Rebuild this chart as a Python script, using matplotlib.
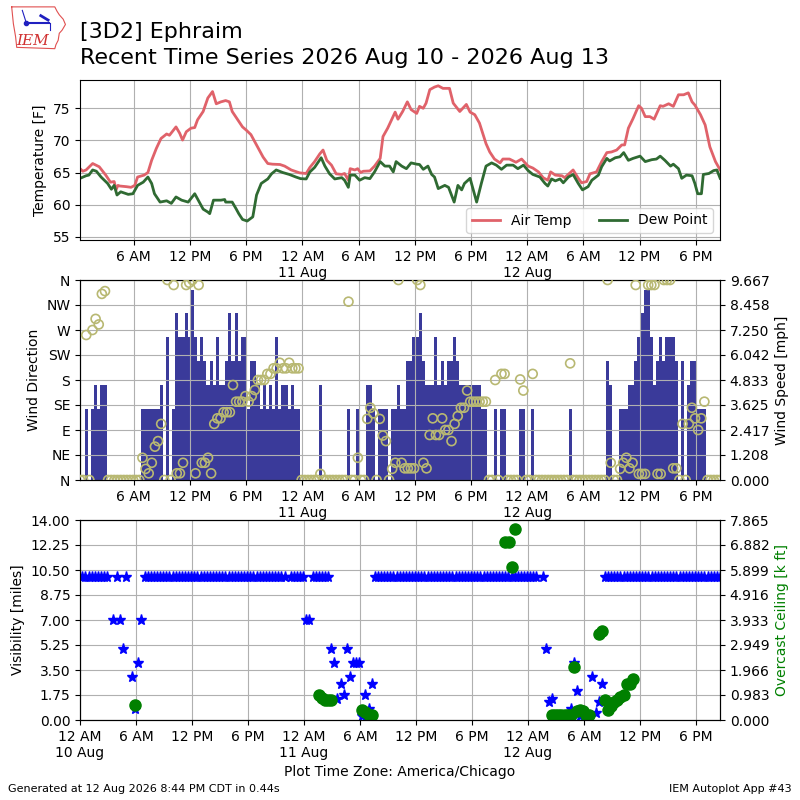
import numpy as np
import pandas as pd
import matplotlib

matplotlib.use("Agg")
import matplotlib.pyplot as plt
import matplotlib.dates as mdates
from matplotlib.ticker import FuncFormatter, FormatStrFormatter

# ---- data ----
START = pd.Timestamp("2026-08-10 00:00")
OBS_START = pd.Timestamp("2026-08-10 00:15")
N_OBS = 206  # 20 minute observations

temp_hours = [
    0.19, 0.55, 0.9, 1.6, 2.3, 3.0, 3.5, 3.9, 4.1, 4.3, 4.5, 5.2, 5.7, 6.1, 6.4,
    7.1, 7.5, 7.9, 8.4, 8.9, 9.5, 9.8, 10.5, 10.9, 11.2, 11.6, 12.1, 12.5, 12.8,
    13.4, 13.9, 14.4, 14.8, 15.3, 15.8, 16.2, 16.5, 17.1, 17.6, 18.0, 18.5, 19.1,
    19.8, 20.3, 20.8, 21.6, 22.1, 22.8, 23.7, 24.4, 24.8, 25.3, 25.85, 26.2, 26.6,
    27.1, 27.6, 28.2, 28.5, 28.9, 29.1, 29.6, 29.9, 30.2, 30.5, 31.2, 31.7, 32.3,
    32.6, 33.1, 33.9, 34.2, 34.7, 35.2, 35.6, 36.2, 36.5, 36.9, 37.2, 37.6, 38.1,
    38.5, 39.0, 39.7, 40.1, 40.8, 41.5, 41.9, 42.4, 42.9, 43.6, 44.0, 44.5, 45.1,
    45.4, 46.1, 46.8, 47.4, 48.1, 48.6, 49.2, 49.7, 50.2, 50.5, 51.0, 51.7, 52.0,
    52.9, 53.45, 53.8, 54.35, 54.7, 55.4, 55.95, 56.5, 57.0, 57.55, 58.1, 58.4,
    58.8, 59.3, 59.9, 60.2, 60.6, 61.1, 61.55, 61.8, 62.2, 62.5, 63.1, 63.6,
    64.15, 64.7, 65.2, 65.6, 65.9, 66.5, 67.0, 67.5, 68.1, 68.6,
]
temp_f = [
    65.7, 65.2, 65.4, 66.4, 65.9, 64.6, 63.5, 63.6, 62.3, 63.0, 62.9, 62.8, 62.7,
    63.0, 64.3, 64.6, 65.0, 66.9, 68.75, 70.3, 71.0, 70.8, 72.1, 71.1, 70.05,
    71.35, 71.9, 72.0, 73.2, 74.5, 76.6, 77.6, 75.7, 76.0, 76.2, 76.0, 74.5, 73.2,
    72.1, 71.6, 70.9, 69.3, 67.4, 66.4, 66.3, 66.25, 66.0, 65.4, 64.95, 64.85,
    65.8, 66.7, 67.9, 68.5, 66.9, 66.15, 64.8, 64.7, 64.85, 63.8, 65.6, 65.4, 65.6,
    65.0, 65.2, 65.25, 66.0, 67.2, 70.6, 71.9, 74.4, 73.3, 74.5, 76.0, 74.8, 74.2,
    75.3, 75.0, 75.8, 77.9, 78.3, 78.5, 78.1, 78.1, 75.8, 74.5, 75.6, 74.4, 74.0,
    72.7, 69.5, 68.2, 67.1, 66.5, 67.1, 67.1, 66.6, 67.1, 66.0, 65.7, 65.1, 64.2,
    63.8, 65.1, 64.6, 64.5, 64.2, 65.4, 64.1, 63.4, 63.6, 64.8, 65.1, 66.7, 68.1,
    68.2, 68.5, 69.3, 69.3, 71.9, 73.4, 75.4, 75.0, 73.7, 73.7, 73.3, 74.1, 75.4,
    75.3, 75.7, 75.3, 77.1, 77.1, 77.4, 76.0, 75.5, 74.0, 72.4, 69.0, 66.7, 65.4,
]

dewp_hours = [
    0.19, 0.9, 1.2, 1.6, 2.0, 2.5, 3.2, 3.6, 3.9, 4.2, 4.6, 5.4, 5.9, 6.4, 7.0,
    7.5, 7.9, 8.2, 8.8, 9.5, 10.0, 10.5, 11.1, 11.8, 12.5, 12.8, 13.4, 13.9, 14.1,
    14.5, 15.3, 15.7, 15.8, 16.5, 16.9, 17.2, 17.6, 18.1, 18.7, 19.1, 19.6, 20.3,
    20.7, 21.2, 21.9, 22.6, 23.3, 23.8, 24.4, 24.8, 25.3, 26.0, 26.4, 26.9, 27.45,
    28.2, 28.5, 28.9, 29.1, 29.6, 30.1, 30.65, 31.2, 31.7, 32.3, 32.8, 33.3, 33.7,
    34.0, 34.6, 35.1, 35.6, 36.2, 36.5, 36.9, 37.4, 37.8, 38.1, 38.5, 39.2, 39.6,
    40.2, 40.6, 41.0, 41.3, 41.9, 42.6, 43.1, 43.6, 44.2, 44.7, 45.25, 45.8, 46.5,
    47.0, 47.6, 48.1, 48.6, 49.35, 49.9, 50.2, 50.6, 51.0, 51.5, 51.85, 52.4,
    52.9, 53.45, 53.9, 54.5, 54.9, 55.6, 55.95, 56.5, 56.8, 57.4, 57.9, 58.3,
    58.8, 59.3, 60.05, 60.6, 61.3, 61.8, 62.2, 62.7, 63.3, 63.6, 64.15, 64.5,
    65.0, 65.6, 65.9, 66.2, 66.6, 66.8, 67.4, 67.9, 68.25, 68.6,
]
dewp_f = [
    64.05, 64.5, 64.6, 65.4, 65.2, 64.3, 63.3, 62.4, 63.0, 61.5, 62.0, 61.6, 61.7,
    63.0, 63.5, 64.3, 63.3, 61.7, 60.4, 60.6, 60.2, 61.2, 60.7, 60.4, 61.7, 60.9,
    59.3, 58.85, 58.6, 60.7, 60.7, 60.8, 60.4, 60.4, 59.4, 58.6, 57.7, 57.45,
    58.1, 61.5, 63.3, 64.0, 64.8, 65.4, 65.0, 64.7, 64.3, 64.05, 64.0, 65.1, 65.8,
    67.3, 66.0, 64.8, 64.0, 64.2, 63.8, 62.7, 64.6, 64.6, 63.8, 64.2, 64.05, 65.1,
    66.7, 66.0, 66.0, 65.1, 66.7, 66.0, 65.6, 66.5, 66.3, 66.25, 65.5, 66.0, 64.7,
    64.3, 62.5, 63.0, 62.7, 60.4, 63.0, 62.3, 63.3, 64.1, 60.4, 63.3, 66.0, 66.5,
    66.15, 65.5, 66.15, 66.15, 65.6, 66.15, 65.3, 64.7, 64.3, 63.3, 62.9, 64.0,
    63.7, 64.0, 63.4, 64.3, 64.7, 63.3, 62.3, 62.8, 63.8, 64.6, 65.9, 67.2, 66.8,
    67.3, 67.45, 68.1, 66.9, 67.2, 67.55, 66.7, 67.0, 67.1, 67.55, 66.9, 66.0,
    66.3, 65.6, 64.1, 64.6, 64.5, 63.3, 61.7, 61.7, 64.7, 64.85, 65.3, 65.4, 64.1,
]

# wind speed [knots], one value per 20 minute ob
wind_kt = [
    0, 0, 3, 0, 3, 4, 3, 4, 4, 0, 0, 0, 0, 0, 0, 0, 0, 0,
    0, 0, 3, 3, 3, 3, 3, 3, 4, 0, 6, 0, 3, 7, 6, 6, 7, 6,
    8, 6, 5, 6, 5, 4, 5, 4, 6, 4, 4, 5, 7, 5, 7, 5, 6, 6,
    3, 5, 5, 4, 3, 4, 3, 4, 3, 6, 3, 4, 4, 3, 4, 3, 3, 0,
    0, 0, 0, 0, 0, 4, 0, 0, 0, 0, 0, 0, 0, 0, 3, 0, 0, 3,
    0, 0, 4, 4, 3, 0, 3, 3, 3, 0, 3, 3, 4, 3, 3, 5, 5, 6,
    6, 7, 5, 4, 4, 4, 6, 4, 5, 4, 5, 5, 6, 5, 4, 4, 4, 4,
    4, 4, 4, 3, 3, 0, 0, 3, 0, 3, 3, 0, 0, 0, 0, 3, 3, 0,
    0, 3, 0, 0, 0, 0, 0, 0, 0, 0, 0, 0, 0, 3, 0, 0, 0, 0,
    0, 0, 0, 0, 0, 0, 0, 5, 4, 0, 0, 3, 3, 3, 4, 4, 5, 6,
    7, 8, 8, 6, 4, 5, 6, 5, 6, 6, 6, 5, 0, 5, 0, 4, 5, 5,
    3, 3, 3, 0, 0, 0, 0, 0,
]
# wind direction [deg]
wind_dir = [
    0, 0, 261, 0, 270, 290, 280, 335, 340, 0, 0, 0, 0, 0, 0, 0, 0, 0,
    0, 0, 40, 20, 12, 31, 60, 70, 101, 0, 360, 0, 351, 12, 12, 31, 351, 355,
    360, 12, 351, 31, 31, 40, 12, 101, 111, 111, 122, 122, 122, 171, 141, 141, 141, 151,
    141, 151, 162, 180, 180, 180, 191, 191, 201, 201, 211, 201, 201, 211, 201, 201, 201, 0,
    0, 0, 0, 0, 0, 11, 0, 0, 0, 0, 0, 0, 0, 0, 321, 0, 0, 40,
    0, 0, 110, 130, 120, 0, 110, 80, 70, 0, 20, 31, 360, 31, 21, 21, 21, 21,
    360, 351, 31, 21, 81, 111, 81, 81, 111, 90, 90, 70, 101, 115, 130, 130, 161, 141,
    141, 141, 141, 141, 141, 0, 0, 180, 0, 191, 191, 0, 0, 0, 0, 181, 161, 0,
    0, 191, 0, 0, 0, 0, 0, 0, 0, 0, 0, 0, 0, 210, 0, 0, 0, 0,
    0, 0, 0, 0, 0, 0, 0, 360, 31, 0, 0, 20, 31, 40, 21, 31, 351, 11,
    11, 11, 351, 351, 351, 11, 11, 360, 360, 360, 21, 21, 0, 101, 0, 101, 130, 111,
    90, 111, 141, 0, 0, 0, 0, 0,
]

nan = np.nan
# visibility [miles]
vis_mi = [
    10, 10, 10, 10, 10, 10, 10, 10, 10, nan, 7, 10, 7, 5, 10, nan, 3, 0.75,
    4, 7, 10, 10, 10, 10, 10, 10, 10, 10, 10, 10, 10, 10, 10, 10, 10, 10,
    10, 10, 10, 10, 10, 10, 10, 10, 10, 10, 10, 10, 10, 10, 10, 10, 10, 10,
    10, 10, 10, 10, 10, 10, 10, 10, 10, 10, 10, 10, nan, 10, 10, 10, 10, 10,
    7, 7, 10, 10, 10, 10, 10, 10, 5, 4, 1.5, 2.5, 1.75, 5, 3, 4, 4, 4,
    0.25, 1.75, 0.75, 2.5, 10, 10, 10, 10, 10, 10, 10, 10, 10, 10, 10, 10, 10, 10,
    10, 10, 10, 10, 10, 10, 10, 10, 10, 10, 10, 10, 10, 10, 10, 10, 10, 10,
    10, 10, 10, 10, 10, 10, 10, 10, 10, 10, 10, 10, 10, 10, 10, 10, 10, 10,
    10, 10, 10, nan, 10, 5, 1.25, 1.5, nan, nan, nan, nan, nan, 0.75, 4, 2, 0.25, nan,
    nan, nan, 3, 0.5, 1.25, 2.5, 10, 10, 10, 10, 10, 10, 10, 10, 10, 10, 10, 10,
    10, 10, 10, 10, 10, 10, 10, 10, 10, 10, 10, 10, 10, 10, 10, 10, 10, 10,
    10, 10, 10, 10, 10, 10, 10, 10,
]

# overcast ceiling [k ft], only the obs that reported one
ceil_hours = [
    5.92, 25.58, 25.92, 26.25, 26.58, 26.92, 30.25, 30.58, 30.92, 31.25,
    45.58, 45.92, 46.25, 46.58, 50.58, 50.92, 51.25, 51.58, 51.92, 52.25,
    52.58, 52.92, 53.25, 53.58, 53.92, 54.25, 54.58, 55.58, 55.92, 56.25,
    56.58, 56.92, 57.25, 57.58, 57.92, 58.25, 58.58, 58.92, 59.25,
]
ceil_kft = [
    0.6, 0.98, 0.85, 0.8, 0.78, 0.8, 0.4, 0.3, 0.2, 0.2,
    7.0, 7.0, 6.0, 7.5, 0.2, 0.2, 0.2, 0.2, 0.2, 0.2,
    0.2, 2.1, 0.35, 0.4, 0.35, 0.2, 0.2, 3.4, 3.5, 0.8,
    0.4, 0.55, 0.7, 0.8, 0.9, 1.0, 1.4, 1.4, 1.6,
]

dir_labels = ["N", "NE", "E", "SE", "S", "SW", "W", "NW", "N"]
KT2MPH = 1.150779

obs_times = OBS_START + pd.to_timedelta(np.arange(N_OBS) * 20, unit="min")
temp_times = START + pd.to_timedelta(temp_hours, unit="h")
dewp_times = START + pd.to_timedelta(dewp_hours, unit="h")
ceil_times = START + pd.to_timedelta(ceil_hours, unit="h")
wind_mph = np.array(wind_kt) * KT2MPH

ticks = pd.date_range("2026-08-10", "2026-08-13", freq="6h")


def time_fmt(x, pos):
    d = mdates.num2date(x)
    if d.hour == 0:
        return "12 AM\n%d %s" % (d.day, d.strftime("%b"))
    hr = d.hour % 12 or 12
    return "%d %s" % (hr, "AM" if d.hour < 12 else "PM")


def time_axis(ax, left):
    ax.set_xticks(ticks)
    ax.xaxis.set_major_formatter(FuncFormatter(time_fmt))
    ax.set_xlim(left, obs_times[-1])
    ax.grid(True, color="#b0b0b0")


fig = plt.figure(figsize=(8, 8), dpi=100)

# ---- temperature ----
ax1 = fig.add_axes([0.1, 0.7, 0.8, 0.2])
ax1.plot(temp_times, temp_f, color="#e0626a", lw=2, label="Air Temp")
ax1.plot(dewp_times, dewp_f, color="#2f6a32", lw=2, label="Dew Point")
ax1.set_ylim(54.5, 79.4)
ax1.set_yticks([55, 60, 65, 70, 75])
ax1.set_ylabel("Temperature [F]")
time_axis(ax1, obs_times[0])
ax1.legend(loc="lower right", ncol=2)

# ---- wind ----
ax2 = fig.add_axes([0.1, 0.4, 0.8, 0.25])
ax2s = ax2.twinx()
ax2s.bar(obs_times, wind_mph, width=20 / 1440.0, color="#3a3a9a")
ax2s.set_ylim(0, 9.6666)
ax2s.set_yticks(np.linspace(0, 9.6666, 9))
ax2s.yaxis.set_major_formatter(FormatStrFormatter("%.3f"))
ax2s.set_ylabel("Wind Speed [mph]")
ax2.set_zorder(ax2s.get_zorder() + 1)
ax2.patch.set_visible(False)
ax2.scatter(obs_times, wind_dir, s=42, facecolors="none",
            edgecolors="#b8b872", linewidths=1.2, zorder=3)
ax2.set_ylim(0, 360)
ax2.set_yticks(np.arange(0, 361, 45))
ax2.set_yticklabels(dir_labels)
ax2.set_ylabel("Wind Direction")
time_axis(ax2, obs_times[0])

# ---- visibility / ceiling ----
ax3 = fig.add_axes([0.1, 0.1, 0.8, 0.25])
ax3.plot(obs_times, vis_mi, "*", color="b", ms=8, ls="none")
ax3.set_ylim(0, 14)
ax3.set_yticks(np.linspace(0, 14, 9))
ax3.yaxis.set_major_formatter(FormatStrFormatter("%.2f"))
ax3.set_ylabel("Visibility [miles]")
ax3.set_xlabel("Plot Time Zone: America/Chicago")
time_axis(ax3, START)
ax3c = ax3.twinx()
ax3c.plot(ceil_times, ceil_kft, "o", color="g", ms=8, ls="none")
ax3c.set_ylim(0, 7.8652)
ax3c.set_yticks(np.linspace(0, 7.8652, 9))
ax3c.yaxis.set_major_formatter(FormatStrFormatter("%.3f"))
ax3c.set_ylabel("Overcast Ceiling [k ft]", color="g")
ax3c.set_xlim(START, obs_times[-1])

# ---- titles / footer ----
fig.text(0.1, 1 - 38 / 800, "[3D2] Ephraim", fontsize=16, va="baseline")
fig.text(0.1, 1 - 64 / 800, "Recent Time Series 2026 Aug 10 - 2026 Aug 13",
         fontsize=16, va="baseline")
fig.text(0.01, 0.01, "Generated at 12 Aug 2026 8:44 PM CDT in 0.44s", fontsize=8)
fig.text(0.99, 0.01, "IEM Autoplot App #43", fontsize=8, ha="right")

# ---- simple IEM logo ----
logo = fig.add_axes([10 / 800, 1 - 50 / 800, 56 / 800, 44 / 800])
logo.set_xlim(0, 1)
logo.set_ylim(0, 1)
logo.axis("off")
ox = [0.03, 0.80, 0.84, 0.88, 0.95, 0.99, 0.93, 0.88, 0.86, 0.82, 0.80, 0.12, 0.10, 0.06, 0.03]
oy = [0.98, 0.98, 0.88, 0.80, 0.70, 0.58, 0.45, 0.38, 0.22, 0.12, 0.03, 0.06, 0.30, 0.60, 0.98]
logo.plot(ox, oy, color="#e05050", lw=0.8)
logo.plot([0.28, 0.70], [0.62, 0.62], color="#2020c0", lw=1.5)
logo.plot([0.28], [0.62], "o", color="#2020c0", ms=3)
logo.plot([0.22, 0.28], [0.9, 0.66], color="#2020c0", lw=0.8)
logo.plot([0.55, 0.68], [0.78, 0.68], color="#2020c0", lw=2)
logo.plot([0.72, 0.72], [0.62, 0.45], color="#2020c0", lw=0.8)
logo.text(0.12, 0.12, "IEM", color="#d03030", fontsize=11, style="italic",
          family="DejaVu Serif")

fig.savefig("out.png", dpi=100)
